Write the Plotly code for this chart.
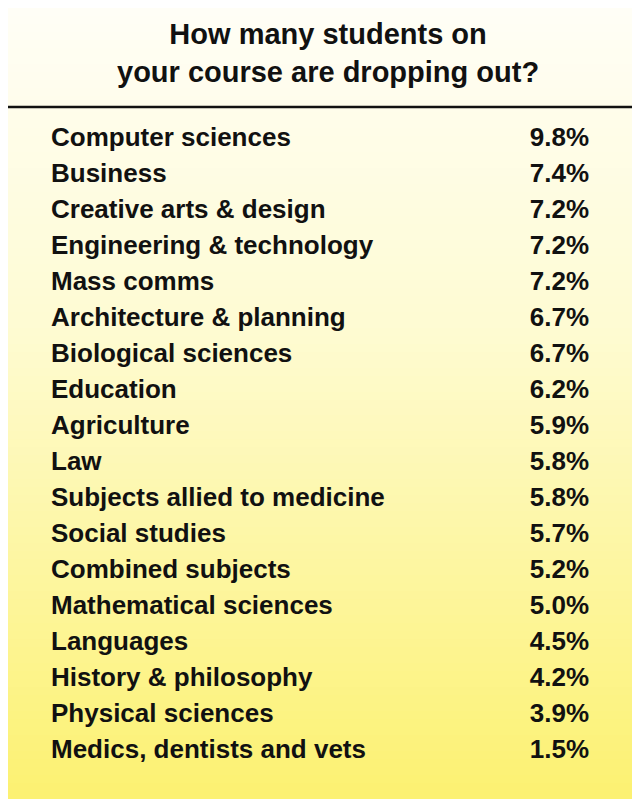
import plotly.graph_objects as go

subjects = ["Computer sciences", "Business", "Creative arts & design",
            "Engineering & technology", "Mass comms", "Architecture & planning",
            "Biological sciences", "Education", "Agriculture", "Law",
            "Subjects allied to medicine", "Social studies", "Combined subjects",
            "Mathematical sciences", "Languages", "History & philosophy",
            "Physical sciences", "Medics, dentists and vets"]
rates = [9.8, 7.4, 7.2, 7.2, 7.2, 6.7, 6.7, 6.2, 5.9, 5.8, 5.8, 5.7, 5.2,
         5.0, 4.5, 4.2, 3.9, 1.5]

W, H = 640, 799
font = dict(family="Liberation Sans, Arial", size=26, color="#111")

fig = go.Figure()
# background gradient white -> yellow (drawn in the first subplot, underneath)
fig.add_trace(go.Heatmap(z=[[i] for i in range(100)], x=[0], y=list(range(100)),
                         colorscale=[[0, "#fffef6"], [0.4, "#fefbd2"], [1, "#fcf170"]],
                         showscale=False, hoverinfo="skip"))
fig.add_trace(go.Scatter(x=[43] * len(subjects), y=subjects, mode="text",
                         text=[f"<b>{s}</b>" for s in subjects],
                         textposition="middle right", textfont=font, hoverinfo="skip",
                         xaxis="x2", yaxis="y2"))
fig.add_trace(go.Scatter(x=[581] * len(rates), y=subjects, mode="text",
                         text=[f"<b>{r:.1f}%</b>" for r in rates],
                         textposition="middle left", textfont=font, hoverinfo="skip",
                         xaxis="x2", yaxis="y2"))

fig.update_layout(
    width=W, height=H, margin=dict(l=0, r=0, t=0, b=0), showlegend=False,
    plot_bgcolor="rgba(0,0,0,0)", paper_bgcolor="white",
    xaxis=dict(range=[-0.5, 0.5], visible=False, domain=[0, 1]),
    yaxis=dict(range=[99.5, -0.5], visible=False, domain=[0, 1]),
    xaxis2=dict(range=[0, W], visible=False, domain=[0, 1], anchor="y2"),
    yaxis2=dict(type="category", categoryorder="array", categoryarray=subjects,
                range=[len(subjects) - 0.5, -0.5], domain=[1 - 761 / H, 1 - 113 / H],
                visible=False, anchor="x2"),
    shapes=[dict(type="line", xref="paper", yref="paper", x0=0, x1=1,
                 y0=1 - 99 / H, y1=1 - 99 / H, line=dict(color="#111", width=2.5))],
    annotations=[dict(text="<b>How many students on<br>your course are dropping out?</b>",
                      xref="paper", yref="paper", x=0.5, y=1 - 8 / H, yanchor="top",
                      showarrow=False, align="center",
                      font=dict(family="Liberation Sans, Arial", size=29, color="#111"))],
)
fig.write_html("out.html")
